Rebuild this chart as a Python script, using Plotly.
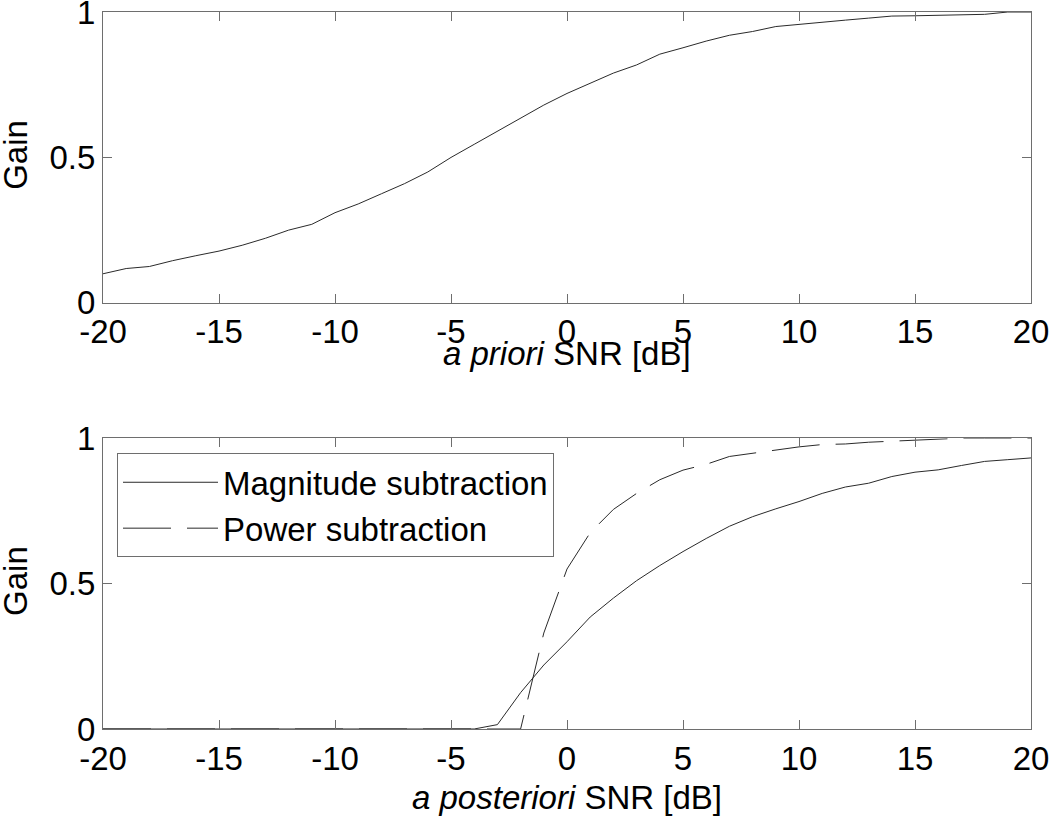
import plotly.graph_objects as go
from plotly.subplots import make_subplots

# ---- data ----
snr_db = list(range(-20, 21))

# top: gain vs a priori SNR
gain_prior = [0.100, 0.118, 0.125, 0.145, 0.162, 0.178, 0.198, 0.222, 0.250, 0.270,
              0.310, 0.340, 0.375, 0.410, 0.450, 0.500, 0.545, 0.590, 0.635, 0.680,
              0.720, 0.755, 0.790, 0.818, 0.855, 0.877, 0.900, 0.920, 0.933, 0.950,
              0.958, 0.965, 0.972, 0.979, 0.986, 0.987, 0.989, 0.990, 0.992, 1.000,
              1.000]

# bottom: gain vs a posteriori SNR
gain_magnitude = [0, 0, 0, 0, 0, 0, 0, 0, 0, 0,
                  0, 0, 0, 0, 0, 0, 0.0, 0.015, 0.125, 0.220,
                  0.300, 0.385, 0.450, 0.510, 0.562, 0.610, 0.655, 0.697, 0.730, 0.757,
                  0.782, 0.810, 0.832, 0.845, 0.868, 0.883, 0.891, 0.906, 0.920, 0.926,
                  0.932]
gain_power = [0, 0, 0, 0, 0, 0, 0, 0, 0, 0,
              0, 0, 0, 0, 0, 0, 0, 0, 0.0, 0.330,
              0.550, 0.675, 0.755, 0.810, 0.857, 0.890, 0.910, 0.937, 0.948, 0.957,
              0.970, 0.978, 0.980, 0.986, 0.990, 0.993, 0.996, 1.000, 1.000, 1.000,
              1.000]

x_ticks = [-20, -15, -10, -5, 0, 5, 10, 15, 20]
y_ticks = [0, 0.5, 1]
y_tick_text = ["0", "0.5", "1"]

x_titles = ["<i>a priori</i> SNR [dB]", "<i>a posteriori</i> SNR [dB]"]
y_title = "Gain"

FONT = "Liberation Sans, Arial, sans-serif"
FS = 33
LINE = "#2a2a2a"
AX = "#6e6e6e"

fig = make_subplots(rows=2, cols=1, vertical_spacing=0.1887)

fig.add_trace(go.Scatter(x=snr_db, y=gain_prior, mode="lines",
                         line=dict(color=LINE, width=1), showlegend=False),
              row=1, col=1)
fig.add_trace(go.Scatter(x=snr_db, y=gain_magnitude, mode="lines",
                         name="Magnitude subtraction", legendgroup="a",
                         line=dict(color=LINE, width=1)),
              row=2, col=1)
fig.add_trace(go.Scatter(x=snr_db, y=gain_power, mode="lines",
                         name="Power subtraction", legendgroup="b",
                         line=dict(color=LINE, width=1, dash="48px,16px")),
              row=2, col=1)

axis_common = dict(showline=True, linecolor=AX, linewidth=1, mirror="ticks",
                   ticks="inside", ticklen=9, tickcolor=AX, tickwidth=1,
                   showgrid=False, zeroline=False, automargin=False,
                   ticklabeloverflow="allow",
                   tickfont=dict(family=FONT, size=FS, color="black"))

for r in (1, 2):
    fig.update_xaxes(range=[-20, 20], tickvals=x_ticks, ticktext=[str(v) for v in x_ticks],
                     row=r, col=1, **axis_common)
    fig.update_yaxes(range=[0, 1], tickvals=y_ticks, ticktext=y_tick_text,
                     row=r, col=1, **axis_common)

# axis titles placed relative to each subplot's domain
title_font = dict(family=FONT, size=FS, color="black")
for r, (xa, ya, ty) in enumerate([("x", "y", -0.175), ("x2", "y2", -0.234)]):
    fig.add_annotation(text=x_titles[r], xref=f"{xa} domain", yref=f"{ya} domain",
                       x=0.5, y=ty, xanchor="center", yanchor="middle",
                       showarrow=False, font=title_font)
    fig.add_annotation(text=y_title, xref=f"{xa} domain", yref=f"{ya} domain",
                       x=-0.0945, y=0.51, xanchor="center", yanchor="middle",
                       textangle=-90, showarrow=False, font=title_font)

fig.update_layout(
    width=1050, height=818,
    margin=dict(l=103, r=19, t=12, b=89),
    paper_bgcolor="white", plot_bgcolor="white",
    font=dict(family=FONT, size=FS, color="black"),
    legend=dict(x=0.0151, y=0.3845, xanchor="left", yanchor="top",
                bordercolor=AX, borderwidth=1, bgcolor="white",
                font=dict(family=FONT, size=FS, color="black"),
                itemwidth=95, traceorder="grouped", tracegroupgap=0),
)

fig.write_html("out.html", config={"displayModeBar": False},
               post_script="document.body.style.margin='0';document.body.style.overflow='hidden';")
